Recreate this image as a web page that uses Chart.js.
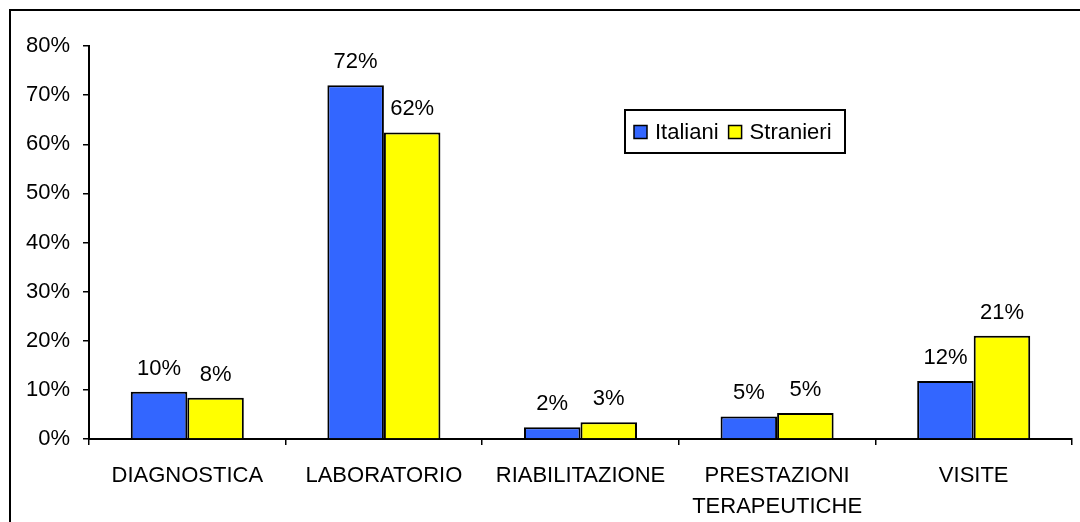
<!DOCTYPE html>
<html>
<head>
<meta charset="utf-8">
<script src="https://cdn.jsdelivr.net/npm/chart.js@4/dist/chart.umd.min.js"></script>
<style>
  html, body { margin: 0; padding: 0; background: #fff; }
  #wrap { width: 1080px; height: 522px; position: relative; }
</style>
</head>
<body>
<div id="wrap"><canvas id="chart"></canvas></div>
<script>
// data (percent)
const categories = ['DIAGNOSTICA', 'LABORATORIO', 'RIABILITAZIONE', ['PRESTAZIONI', 'TERAPEUTICHE'], 'VISITE'];
const seriesNames = ['Italiani', 'Stranieri'];
const italiani = [9.6, 72.0, 2.4, 4.6, 11.8];
const stranieri = [8.4, 62.4, 3.4, 5.3, 21.0];
const yMax = 80;
const yStep = 10;

const FONT = "'Liberation Sans', Arial, sans-serif";
const blue = '#3366FF';
const yellow = '#FFFF00';

// black frame cut off on the right and bottom, like the original sheet
const framePlugin = {
  id: 'frame',
  beforeDraw(chart) {
    const ctx = chart.ctx;
    ctx.save();
    ctx.fillStyle = '#fff';
    ctx.fillRect(0, 0, chart.width, chart.height);
    ctx.strokeStyle = '#000';
    ctx.lineWidth = 2;
    ctx.beginPath();
    ctx.moveTo(10, chart.height + 2);
    ctx.lineTo(10, 10);
    ctx.lineTo(chart.width + 2, 10);
    ctx.stroke();
    ctx.restore();
  }
};

// value labels above each bar
const valueLabels = {
  id: 'valueLabels',
  afterDatasetsDraw(chart) {
    const ctx = chart.ctx;
    ctx.save();
    ctx.font = '22px ' + FONT;
    ctx.fillStyle = '#000';
    ctx.textAlign = 'center';
    ctx.textBaseline = 'alphabetic';
    chart.data.datasets.forEach((ds, i) => {
      chart.getDatasetMeta(i).data.forEach((bar, j) => {
        ctx.fillText(Math.round(ds.data[j]) + '%', bar.x, bar.y - 17);
      });
    });
    ctx.restore();
  }
};

// boxed legend inside the plot
const boxLegend = {
  id: 'boxLegend',
  afterDraw(chart) {
    const ctx = chart.ctx;
    const x0 = 625, y0 = 110, w = 220, h = 43;
    ctx.save();
    ctx.fillStyle = '#fff';
    ctx.fillRect(x0, y0, w, h);
    ctx.strokeStyle = '#000';
    ctx.lineWidth = 2;
    ctx.strokeRect(x0, y0, w, h);
    ctx.font = '22px ' + FONT;
    ctx.textBaseline = 'middle';
    ctx.textAlign = 'left';
    let x = x0 + 9;
    const cy = y0 + h / 2;
    chart.data.datasets.forEach(ds => {
      ctx.fillStyle = ds.backgroundColor;
      ctx.fillRect(x, cy - 6, 13, 13);
      ctx.lineWidth = 1.5;
      ctx.strokeRect(x, cy - 6, 13, 13);
      ctx.fillStyle = '#000';
      ctx.fillText(ds.label, x + 21, cy + 1);
      x += 21 + ctx.measureText(ds.label).width + 10;
    });
    ctx.restore();
  }
};

new Chart(document.getElementById('chart'), {
  type: 'bar',
  data: {
    labels: categories,
    datasets: [
      { label: seriesNames[0], data: italiani, backgroundColor: blue, borderColor: '#000', borderWidth: 2,
        categoryPercentage: 0.575, barPercentage: 1 },
      { label: seriesNames[1], data: stranieri, backgroundColor: yellow, borderColor: '#000', borderWidth: 2,
        categoryPercentage: 0.575, barPercentage: 1 }
    ]
  },
  options: {
    responsive: true,
    maintainAspectRatio: false,
    animation: false,
    devicePixelRatio: 1,
    layout: { padding: { top: 46, right: 8, left: 0, bottom: 0 } },
    plugins: {
      legend: { display: false },
      tooltip: { enabled: false }
    },
    scales: {
      x: {
        afterFit: s => { s.height = 83; },
        grid: { drawOnChartArea: false, drawTicks: true, tickLength: 6, color: '#000', lineWidth: 1.5, offset: true },
        border: { display: true, color: '#000', width: 2 },
        ticks: {
          color: '#000',
          font: { family: FONT, size: 22, lineHeight: 1.38 },
          padding: 16,
          maxRotation: 0,
          autoSkip: false
        }
      },
      y: {
        min: 0,
        max: yMax,
        afterFit: s => { s.width = 89; },
        grid: { drawOnChartArea: false, drawTicks: true, tickLength: 6, color: '#000', lineWidth: 1.5 },
        border: { display: true, color: '#000', width: 2 },
        ticks: {
          stepSize: yStep,
          color: '#000',
          padding: 13,
          font: { family: FONT, size: 22 },
          callback: v => v + '%'
        }
      }
    }
  },
  plugins: [framePlugin, valueLabels, boxLegend]
});
</script>
</body>
</html>
